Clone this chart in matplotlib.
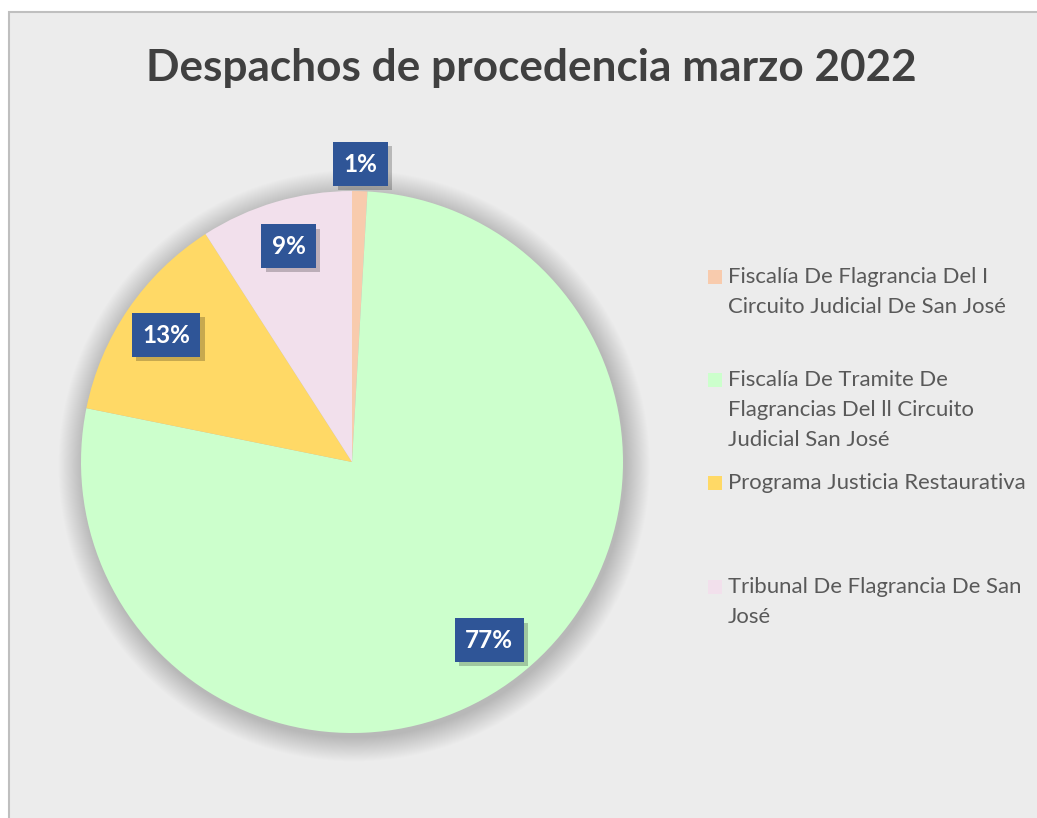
import numpy as np
import matplotlib.pyplot as plt
from matplotlib.patches import Rectangle, Circle
import matplotlib.patheffects as pe

plt.rcParams['font.family'] = ['Lato', 'DejaVu Sans']

title = 'Despachos de procedencia marzo 2022'
labels = [
    'Fiscalía De Flagrancia Del I\nCircuito Judicial De San José',
    'Fiscalía De Tramite De\nFlagrancias Del ll Circuito\nJudicial San José',
    'Programa Justicia Restaurativa',
    'Tribunal De Flagrancia De San\nJosé',
]
counts = [1, 85, 14, 10]
colors = ['#F8CBAD', '#CCFFCC', '#FFD966', '#F2E0EC']

W, H = 1037, 818
fig = plt.figure(figsize=(W / 100, H / 100), dpi=100)
fig.patch.set_facecolor('white')

# chart area background
fig.patches.append(Rectangle((9 / W, -0.01), 1.0, (H - 12) / H + 0.01,
                             transform=fig.transFigure, facecolor='#ECECEC',
                             edgecolor='#BFBFBF', linewidth=1.5, zorder=-5))

fig.text(531 / W, 1 - 68 / H, title, ha='center', va='center',
         fontsize=31.8, fontweight='bold', color='#404040')

# pie axes: center (352, 462) px, radius 271 px, limits +-1.2
r_px = 271
lim = 1.2
half = r_px * lim
ax = fig.add_axes([(352 - half) / W, (H - 462 - half) / H, 2 * half / W, 2 * half / H])
ax.axis('off')

# soft shadow behind the pie
n_sh = 26
for k in range(n_sh):
    rr = 1.0 + 0.0035 * (n_sh - k)
    ax.add_patch(Circle((0.008, -0.014), rr, facecolor='#000000', alpha=0.009,
                        edgecolor='none', zorder=0))

wedges, _, autotexts = ax.pie(counts, colors=colors, startangle=90, counterclock=False,
                              radius=1.0, autopct='%1.0f%%', pctdistance=0.83,
                              wedgeprops=dict(linewidth=0), textprops=dict(zorder=5))
ax.set_xlim(-lim, lim)
ax.set_ylim(-lim, lim)
ax.set_aspect('equal')

for i, t in enumerate(autotexts):
    x, y = t.get_position()
    if counts[i] / sum(counts) < 0.03:
        t.set_position((x * 1.1 / 0.83, y * 1.1 / 0.83))
    t.set_color('white')
    t.set_fontweight('bold')
    t.set_fontsize(17.5)
    t.set_bbox(dict(boxstyle='square,pad=0.42', facecolor='#2F5597', edgecolor='none'))
    t.get_bbox_patch().set_path_effects([
        pe.SimplePatchShadow(offset=(3, -3), shadow_rgbFace='#000000', alpha=0.22),
        pe.Normal()])

# legend drawn manually
leg_y = [277, 380, 483, 587]
for lab, col, yy in zip(labels, colors, leg_y):
    fig.patches.append(Rectangle((708 / W, 1 - (yy + 7) / H), 14 / W, 14 / H,
                                 transform=fig.transFigure, facecolor=col,
                                 edgecolor='none'))
    fig.text(728 / W, 1 - (yy - 10) / H, lab, ha='left', va='top', fontsize=15.9,
             color='#595959', linespacing=1.62)

fig.savefig('out.png', dpi=100, facecolor=fig.get_facecolor())
